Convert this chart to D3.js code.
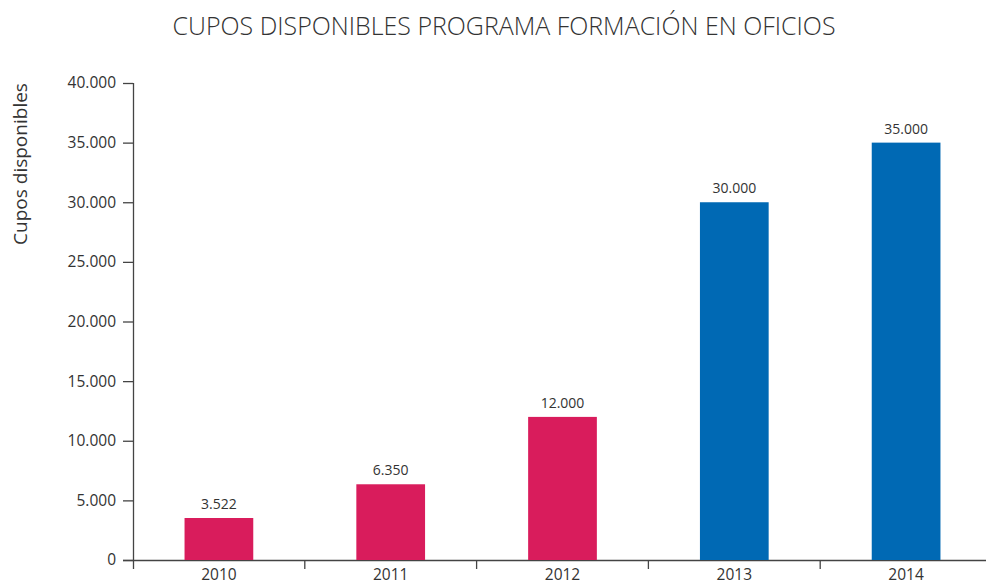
<!DOCTYPE html>
<html>
<head>
<meta charset="utf-8">
<script src="https://cdn.jsdelivr.net/npm/d3@7"></script>
<style>
  body { margin: 0; background: #fff; }
  text { font-family: "Open Sans", "Noto Sans", sans-serif; fill: #333; }
</style>
</head>
<body>
<div id="viz"></div>
<script>
// data
var years = ["2010", "2011", "2012", "2013", "2014"];
var cupos = [3522, 6350, 12000, 30000, 35000];
var barColors = ["#d91c5c", "#d91c5c", "#d91c5c", "#0069b4", "#0069b4"];
var yTicks = [0, 5000, 10000, 15000, 20000, 25000, 30000, 35000, 40000];

var W = 986, H = 584;
var margin = { top: 83, left: 133, bottom: 24 };
var plotRight = 992, plotBottom = H - margin.bottom;

var es = d3.formatLocale({ decimal: ",", thousands: ".", grouping: [3], currency: ["", ""] });
var fmt = es.format(",");

var svg = d3.select("#viz").append("svg")
  .attr("width", W)
  .attr("height", H);

// scales
var x = d3.scaleBand().domain(years).range([margin.left, plotRight]).paddingInner(0.6).paddingOuter(0.3);
var xTickScale = d3.scaleLinear().domain([0, years.length]).range([margin.left, plotRight]);
var y = d3.scaleLinear().domain([0, 40000]).range([plotBottom, margin.top]);

// title
svg.append("text")
  .attr("x", 504)
  .attr("y", 35)
  .attr("text-anchor", "middle")
  .attr("textLength", 663)
  .attr("lengthAdjust", "spacingAndGlyphs")
  .style("font-size", "26px")
  .style("font-weight", 300)
  .text("CUPOS DISPONIBLES PROGRAMA FORMACIÓN EN OFICIOS");

// y axis
var yAxis = svg.append("g")
  .attr("transform", "translate(" + margin.left + ",0)")
  .call(d3.axisLeft(y).tickValues(yTicks).tickFormat(fmt).tickSize(10).tickPadding(7).tickSizeOuter(0));
yAxis.select(".domain").attr("stroke", "#444").attr("stroke-width", 1.3)
  .attr("d", "M0.5," + margin.top + "V" + (plotBottom + 9));
yAxis.selectAll(".tick line").attr("stroke", "#444").attr("stroke-width", 1.3);
yAxis.selectAll(".tick text").style("font-size", "15.5px").attr("fill", "#333");

// x axis line and category separators
svg.append("line")
  .attr("x1", margin.left - 10).attr("x2", plotRight)
  .attr("y1", plotBottom + 0.5).attr("y2", plotBottom + 0.5)
  .attr("stroke", "#444").attr("stroke-width", 1.3);
svg.selectAll(".xsep")
  .data(d3.range(1, years.length))
  .enter().append("line")
  .attr("class", "xsep")
  .attr("x1", d => xTickScale(d)).attr("x2", d => xTickScale(d))
  .attr("y1", plotBottom).attr("y2", plotBottom + 9)
  .attr("stroke", "#444").attr("stroke-width", 1.3);

svg.selectAll(".xlab")
  .data(years)
  .enter().append("text")
  .attr("class", "xlab")
  .attr("x", d => x(d) + x.bandwidth() / 2)
  .attr("y", plotBottom + 20)
  .attr("text-anchor", "middle")
  .style("font-size", "15.5px")
  .text(d => d);

// y axis label
svg.append("text")
  .attr("transform", "translate(27,164) rotate(-90)")
  .attr("text-anchor", "middle")
  .style("font-size", "19px")
  .text("Cupos disponibles");

// bars
svg.selectAll(".bar")
  .data(cupos)
  .enter().append("rect")
  .attr("class", "bar")
  .attr("x", (d, i) => x(years[i]))
  .attr("width", x.bandwidth())
  .attr("y", d => y(d))
  .attr("height", d => plotBottom - y(d))
  .attr("fill", (d, i) => barColors[i]);

// value labels
svg.selectAll(".val")
  .data(cupos)
  .enter().append("text")
  .attr("class", "val")
  .attr("x", (d, i) => x(years[i]) + x.bandwidth() / 2)
  .attr("y", d => y(d) - 9)
  .attr("text-anchor", "middle")
  .style("font-size", "14px")
  .text(d => fmt(d));
</script>
</body>
</html>
